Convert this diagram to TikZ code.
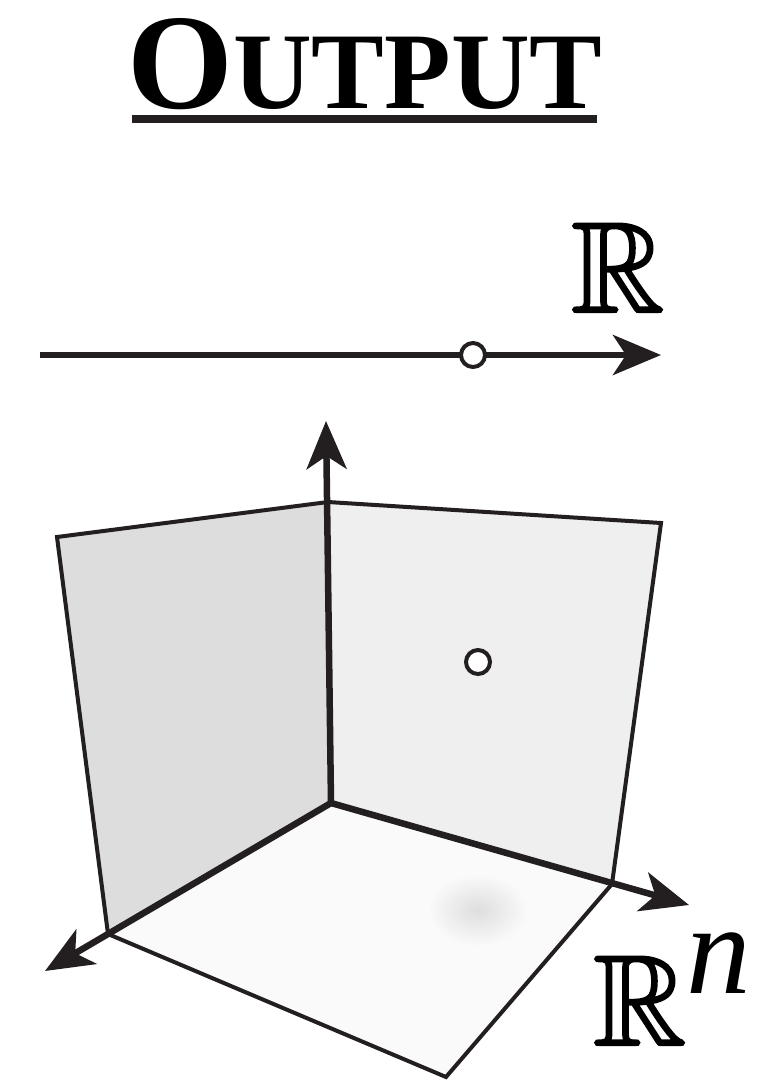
\documentclass[tikz,border=0pt]{standalone}
\usepackage{amssymb}
\usepackage{fontspec}
\newfontfamily\titlefont{Liberation Serif}
\usetikzlibrary{arrows.meta}
\definecolor{ink}{HTML}{231F20}
\definecolor{leftc}{HTML}{DDDDDD}
\definecolor{rightc}{HTML}{EFEFEF}
\definecolor{floorc}{HTML}{FAFAFA}
\newcommand\bbR{{\special{pdf:literal direct 2 Tr 2.2 w}\usefont{U}{msb}{m}{n}R\special{pdf:literal direct 0 Tr}}}
\tikzset{
  edge/.style={draw=ink, line width=4pt, line join=miter},
  axis/.style={draw=ink, line width=6.5pt, -{Stealth[length=48pt,width=40pt,inset=13pt]}},
  dot/.style={circle, draw=ink, fill=white, line width=4pt, minimum size=24pt, inner sep=0pt},
  lbl/.style={inner sep=0pt, text=black},
}
\begin{document}
\begin{tikzpicture}[x=1pt,y=-1pt]
\useasboundingbox (0,0) rectangle (765,1080);
% title
\node[lbl, anchor=base] (title) at (365,108) {\titlefont\bfseries\fontsize{136}{136}\selectfont O\fontsize{109}{109}\selectfont UTPUT};
\coordinate (ul1) at (132,119);
\coordinate (ul2) at (597,119);
\draw[ink, line width=8pt] (ul1) -- (ul2);
% R label
\node[lbl, anchor=base west] (R1) at (571,312) {\fontsize{129}{129}\selectfont\bbR};
% number line
\coordinate (h0) at (40,355);
\coordinate (h1) at (661,355);
\draw[axis] (h0) -- (h1);
\node[dot] (p1) at (473,355) {};
% 3D corner
\coordinate (O) at (331,803);
\coordinate (tl) at (57,537);
\coordinate (tm) at (328,502);
\coordinate (tr) at (661,523);
\coordinate (br) at (612,884);
\coordinate (bl) at (108,934);
\coordinate (bb) at (446,1077);
\fill[leftc] (tl) -- (tm) -- (O) -- (bl) -- cycle;
\fill[rightc] (tm) -- (tr) -- (br) -- (O) -- cycle;
\fill[floorc] (O) -- (br) -- (bb) -- (bl) -- cycle;
\shade[inner color=black!13, outer color=floorc] (478,910) ellipse [x radius=50, y radius=36];
\draw[edge] (bl) -- (tl) -- (tm) -- (tr) -- (br) -- (bb) -- (bl);
% axes
\coordinate (ztip) at (326,421);
\coordinate (xtip) at (45,971);
\coordinate (ytip) at (689,905);
\draw[axis] (O) -- (ztip);
\draw[axis] (O) -- (xtip);
\draw[axis] (O) -- (ytip);
\node[dot] (p2) at (478,662) {};
% R^n label
\node[lbl, anchor=base west] (Rn) at (593,1045) {\fontsize{129}{129}\selectfont\bbR\raisebox{52pt}{\itshape\titlefont n}};
\end{tikzpicture}
\end{document}
